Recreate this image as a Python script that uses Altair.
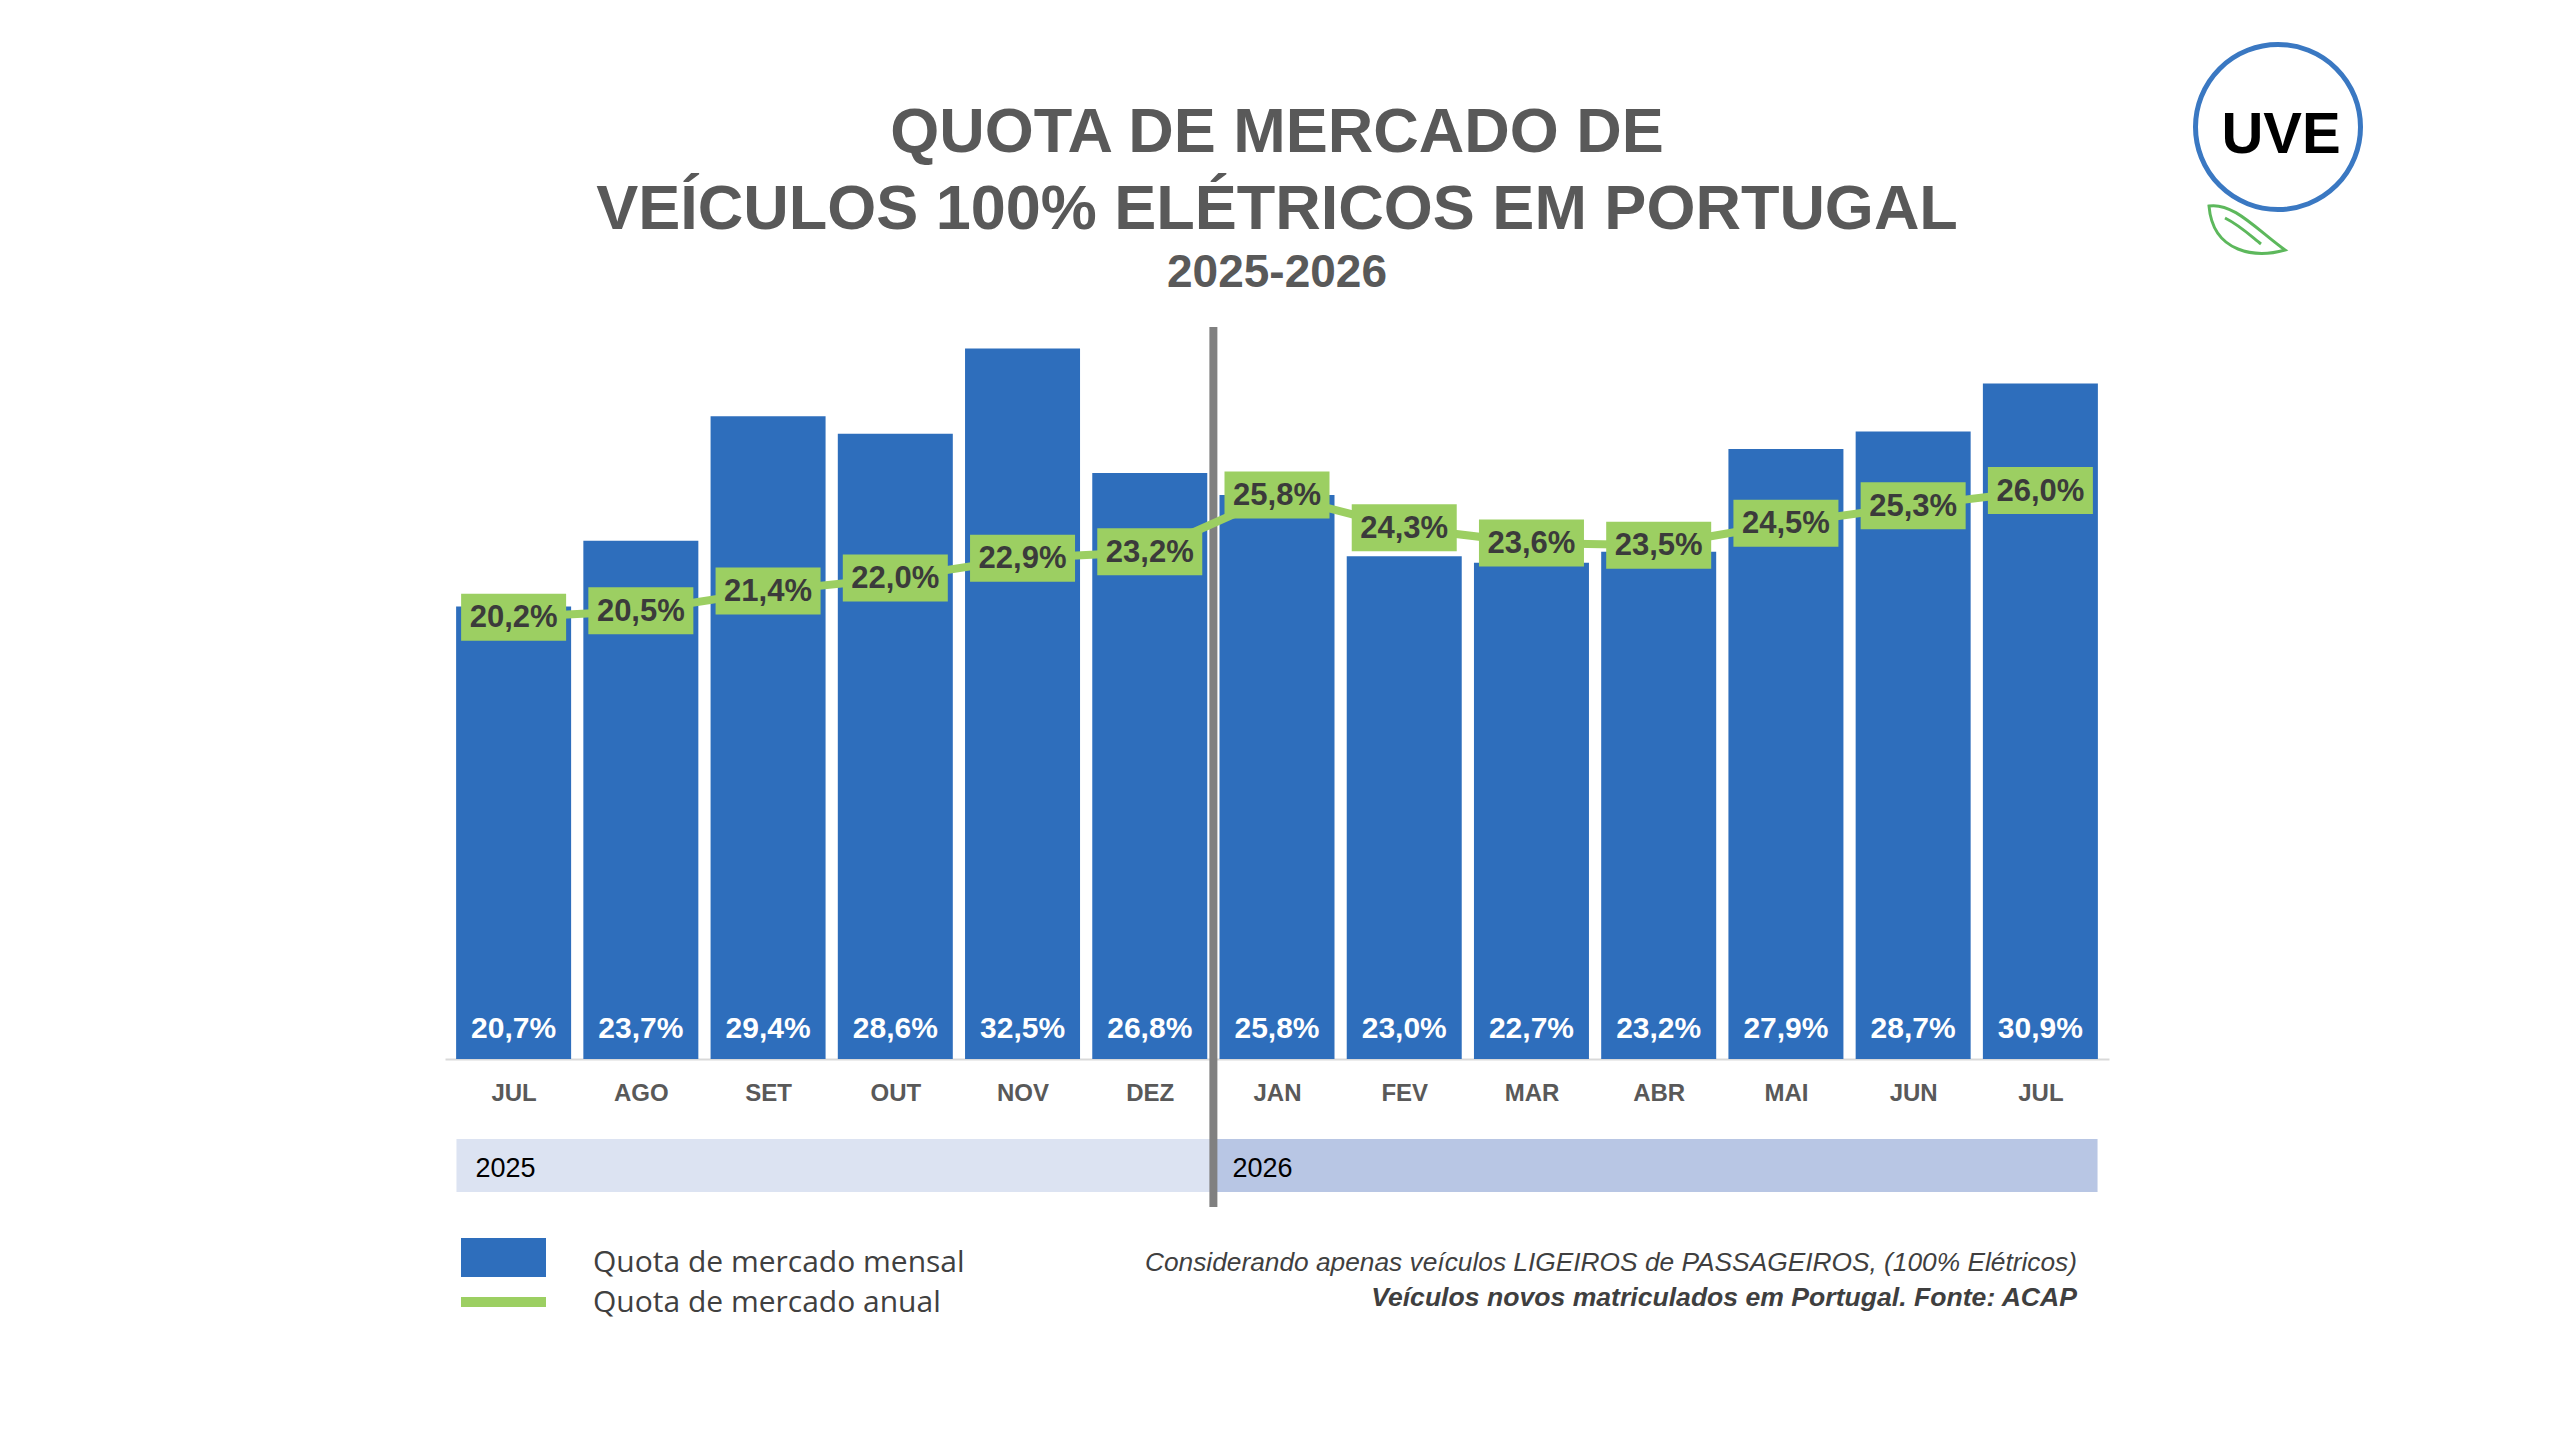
import altair as alt
import pandas as pd

# ---------------- data ----------------
MONTHS = ["JUL", "AGO", "SET", "OUT", "NOV", "DEZ", "JAN", "FEV", "MAR", "ABR", "MAI", "JUN", "JUL"]
YEARS = [2025, 2025, 2025, 2025, 2025, 2025, 2026, 2026, 2026, 2026, 2026, 2026, 2026]
MENSAL = [20.7, 23.7, 29.4, 28.6, 32.5, 26.8, 25.8, 23.0, 22.7, 23.2, 27.9, 28.7, 30.9]
ANUAL = [20.2, 20.5, 21.4, 22.0, 22.9, 23.2, 25.8, 24.3, 23.6, 23.5, 24.5, 25.3, 26.0]

TITLE1 = "QUOTA DE MERCADO DE"
TITLE2 = "VEÍCULOS 100% ELÉTRICOS EM PORTUGAL"
SUBTITLE = "2025-2026"
LEG_BAR = "Quota de mercado mensal"
LEG_LINE = "Quota de mercado anual"
NOTE1 = "Considerando apenas veículos LIGEIROS de PASSAGEIROS, (100% Elétricos)"
NOTE2 = "Veículos novos matriculados em Portugal. Fonte: ACAP"
LOGO = "UVE"

# ---------------- styling ----------------
BLUE = "#2E6EBC"
GREEN = "#9CCF62"
GREY_T = "#595959"
DARK_T = "#3B3B3B"
FONT = "Liberation Sans"

STEP = 128.0
PLOT_W = int(STEP * len(MONTHS))   # 1664
PLOT_H = 739
BAR_W = 115
HALF_BAR = (BAR_W / 2) / STEP
X_DOM = [-0.5, len(MONTHS) - 0.5]
Y_DOM = [0, 33.8]


def fmt(v):
    return f"{v:.1f}".replace(".", ",") + "%"


df = pd.DataFrame({
    "idx": list(range(len(MONTHS))),
    "month": MONTHS,
    "year": YEARS,
    "mensal": MENSAL,
    "anual": ANUAL,
})
df["mensal_lbl"] = [fmt(v) for v in MENSAL]
df["anual_lbl"] = [fmt(v) for v in ANUAL]

first_2026 = YEARS.index(2026)
sep = first_2026 - 0.5
years_df = pd.DataFrame({
    "year": [str(YEARS[0]), str(YEARS[-1])],
    "start": [0 - HALF_BAR, sep],
    "end": [sep, len(MONTHS) - 1 + HALF_BAR],
    "color": ["#DCE3F2", "#B8C6E4"],
})

label_expr = "[" + ",".join(f"'{m}'" for m in MONTHS) + "][datum.value]"

xscale = alt.Scale(domain=X_DOM, nice=False, zero=False)
yscale = alt.Scale(domain=Y_DOM, nice=False, zero=True)

x_axis = alt.Axis(
    values=list(range(len(MONTHS))), labelExpr=label_expr, title=None, grid=False,
    ticks=False, domainColor="#D9D9D9", domainWidth=2, labelFont=FONT,
    labelFontWeight="bold", labelFontSize=24, labelColor=GREY_T, labelPadding=22,
)

base = alt.Chart(df)

bands = alt.Chart(years_df).mark_rect().encode(
    x=alt.X("start:Q", scale=xscale, axis=x_axis),
    x2="end:Q",
    y=alt.value(819), y2=alt.value(872),
    color=alt.Color("color:N", scale=None),
)
band_txt = alt.Chart(years_df).mark_text(
    align="left", baseline="alphabetic", font=FONT, fontSize=27, color="#000000", dx=19
).encode(x=alt.X("start:Q", scale=xscale), y=alt.value(857), text="year:N")

bars = base.mark_bar(width=BAR_W, color=BLUE).encode(
    x=alt.X("idx:Q", scale=xscale, axis=x_axis),
    y=alt.Y("mensal:Q", scale=yscale, axis=None),
)
bar_txt = base.mark_text(
    baseline="alphabetic", font=FONT, fontWeight="bold", fontSize=30, color="#FFFFFF"
).encode(x=alt.X("idx:Q", scale=xscale), y=alt.value(PLOT_H - 21), text="mensal_lbl:N")

sep_rule = alt.Chart(pd.DataFrame({"sep": [sep]})).mark_rule(
    color="#808080", strokeWidth=8
).encode(x=alt.X("sep:Q", scale=xscale), y=alt.value(7), y2=alt.value(887))

line = base.mark_line(color=GREEN, strokeWidth=8).encode(
    x=alt.X("idx:Q", scale=xscale),
    y=alt.Y("anual:Q", scale=yscale, axis=None),
)
box_path = "M-1,-0.4476L1,-0.4476L1,0.4476L-1,0.4476Z"
boxes = base.mark_point(
    shape=box_path, size=105 * 105, filled=True, color=GREEN, opacity=1, strokeWidth=0
).encode(x=alt.X("idx:Q", scale=xscale), y=alt.Y("anual:Q", scale=yscale))
box_txt = base.mark_text(
    baseline="middle", font=FONT, fontWeight="bold", fontSize=31, color=DARK_T, dy=1
).encode(x=alt.X("idx:Q", scale=xscale), y=alt.Y("anual:Q", scale=yscale), text="anual_lbl:N")


def txt(s, x, y, size, weight="normal", color=GREY_T, align="center", style="normal", font=FONT):
    return alt.Chart(pd.DataFrame({"t": [s]})).mark_text(
        align=align, baseline="alphabetic", font=font, fontSize=size,
        fontWeight=weight, fontStyle=style, color=color,
    ).encode(x=alt.value(x), y=alt.value(y), text="t:N")


t1 = txt(TITLE1, PLOT_W / 2, -168, 63, "bold")
t2 = txt(TITLE2, PLOT_W / 2, -91, 63, "bold")
t3 = txt(SUBTITLE, PLOT_W / 2, -33, 46, "bold")

leg_bar = alt.Chart(pd.DataFrame({"k": [0]})).mark_rect(color=BLUE).encode(
    x=alt.value(16), x2=alt.value(101), y=alt.value(918), y2=alt.value(957))
leg_line = alt.Chart(pd.DataFrame({"k": [0]})).mark_rect(color=GREEN).encode(
    x=alt.value(16), x2=alt.value(101), y=alt.value(977), y2=alt.value(987))
leg_t1 = txt(LEG_BAR, 148, 952, 30, color="#404040", align="left", font="Open Sans")
leg_t2 = txt(LEG_LINE, 148, 992, 30, color="#404040", align="left", font="Open Sans")

note1 = txt(NOTE1, 1632, 951, 26.3, color="#3F3F3F", align="right", style="italic")
note2 = txt(NOTE2, 1632, 986, 26.6, weight="bold", color="#3F3F3F", align="right", style="italic")

logo_circle = alt.Chart(pd.DataFrame({"k": [0]})).mark_point(
    shape="circle", size=165 * 165, filled=False, color="#3A78C2", strokeWidth=5, opacity=1
).encode(x=alt.value(1833), y=alt.value(-193))
logo_txt = txt(LOGO, 1836, -167, 58, "bold", color="#000000")
leaf_path = "M-0.9,-0.5C-0.3,-0.6 0.3,0.1 1,0.6C0.3,0.8 -0.8,0.7 -0.9,-0.5ZM-0.5,-0.2C-0.1,0 0.2,0.3 0.4,0.45"
logo_leaf = alt.Chart(pd.DataFrame({"k": [0]})).mark_point(
    shape=leaf_path, size=80 * 80, filled=False, color="#5DB85C", strokeWidth=3, opacity=1
).encode(x=alt.value(1800), y=alt.value(-94))

chart = alt.layer(
    bands, band_txt, bars, bar_txt, sep_rule, line, boxes, box_txt,
    t1, t2, t3, leg_bar, leg_line, leg_t1, leg_t2, note1, note2,
    logo_circle, logo_txt, logo_leaf,
).resolve_scale(color="independent").properties(
    width=PLOT_W, height=PLOT_H,
    autosize="none",
    padding={"left": 437, "top": 312, "right": 2544 - 437 - PLOT_W, "bottom": 372},
    background="white",
).configure_view(stroke=None)

chart.save("out.html", embed_options={"renderer": "svg", "actions": False})
